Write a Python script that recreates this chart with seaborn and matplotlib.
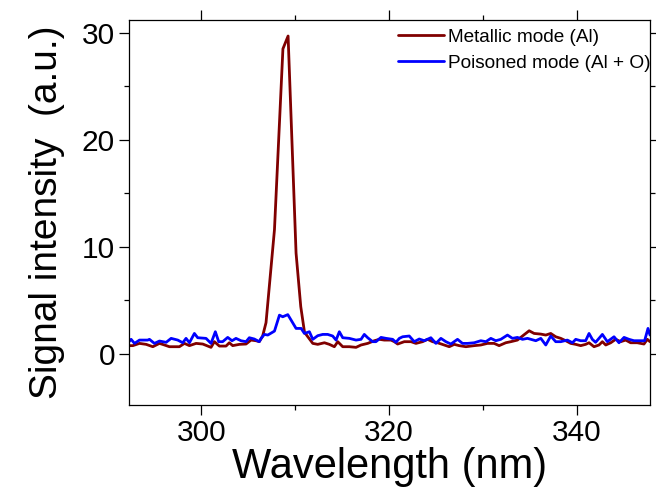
import numpy as np
import pandas as pd
import matplotlib
matplotlib.use("Agg")
import matplotlib.pyplot as plt
from matplotlib.ticker import MultipleLocator
import seaborn as sns

# ---- data ----
wl_metallic = [292.28, 292.71, 293.42, 294.13, 294.84, 295.55, 296.08, 296.61, 297.67, 298.21,
               298.74, 299.45, 300.16, 301.04, 301.40, 301.93, 302.64, 302.99, 303.35, 304.06,
               304.77, 305.30, 305.83, 306.18, 306.54, 306.90, 307.80, 308.70, 309.25, 310.10,
               310.60, 311.00, 311.35, 311.88, 312.41, 313.12, 313.65, 314.18, 314.54, 315.07,
               315.78, 316.49, 317.02, 317.73, 318.44, 318.97, 319.50, 320.21, 320.57, 320.92,
               321.63, 322.34, 322.87, 323.58, 324.11, 324.64, 325.17, 325.88, 326.42, 326.95,
               327.48, 328.19, 329.08, 329.78, 330.49, 331.20, 331.73, 332.44, 332.98, 333.68,
               334.22, 334.93, 335.46, 336.17, 336.70, 337.23, 337.76, 338.30, 338.83, 339.36,
               339.89, 340.42, 340.95, 341.31, 341.84, 342.37, 342.73, 343.09, 343.62, 344.15,
               344.68, 345.21, 345.74, 346.45, 347.16, 347.52, 347.80]
int_metallic = [0.75, 0.75, 0.96, 0.87, 0.65, 0.96, 0.81, 0.65, 0.65, 0.96,
                0.75, 0.96, 0.90, 0.59, 1.12, 0.71, 0.71, 1.02, 0.75, 0.87,
                0.90, 1.27, 1.21, 1.12, 1.65, 2.90, 11.6, 28.5, 29.7, 9.4,
                4.4, 2.0, 1.58, 0.96, 0.87, 1.02, 0.87, 0.65, 1.12, 0.65,
                0.65, 0.59, 0.81, 0.96, 1.21, 1.34, 1.27, 1.27, 1.12, 0.90,
                1.12, 1.12, 0.96, 1.12, 1.34, 1.12, 1.02, 0.81, 0.65, 0.87,
                0.75, 0.65, 0.75, 0.81, 0.96, 0.96, 0.75, 1.02, 1.12, 1.27,
                1.65, 2.14, 1.89, 1.83, 1.74, 1.89, 1.58, 1.43, 1.21, 0.96,
                0.87, 0.75, 0.87, 1.02, 0.65, 0.81, 1.12, 0.81, 1.02, 1.34,
                1.12, 1.27, 1.02, 1.02, 0.90, 1.34, 1.12]

wl_poisoned = [292.30, 292.53, 292.89, 293.42, 294.30, 294.48, 295.01, 295.55, 296.26, 296.79,
               297.50, 298.03, 298.38, 298.74, 299.27, 299.62, 300.51, 301.04, 301.50, 301.86,
               302.28, 302.82, 303.28, 303.70, 304.23, 304.77, 305.12, 305.65, 306.18, 306.38,
               306.72, 307.09, 307.80, 308.33, 308.68, 309.22, 309.57, 310.10, 310.64, 310.99,
               311.52, 311.88, 312.41, 312.94, 313.47, 314.00, 314.36, 314.71, 315.07, 315.78,
               316.49, 317.02, 317.37, 317.73, 318.26, 318.61, 319.15, 319.68, 320.39, 320.74,
               321.10, 321.45, 322.16, 322.69, 323.22, 323.76, 324.46, 325.00, 325.53, 326.06,
               326.59, 327.30, 327.83, 328.37, 329.08, 329.78, 330.32, 330.85, 331.38, 331.91,
               332.62, 333.15, 333.68, 334.22, 334.75, 335.64, 336.17, 336.70, 337.23, 337.76,
               338.30, 339.00, 339.54, 339.89, 340.42, 340.95, 341.31, 341.66, 342.01, 342.73,
               343.26, 343.97, 344.50, 345.04, 345.57, 346.10, 346.81, 347.23, 347.59, 347.80]
int_poisoned = [1.12, 1.34, 0.96, 1.27, 1.27, 1.34, 0.96, 1.18, 1.06, 1.43,
                1.27, 1.02, 1.43, 1.02, 1.89, 1.49, 1.43, 0.96, 2.05, 1.12,
                1.12, 1.52, 1.21, 1.43, 1.21, 1.12, 1.49, 1.37, 1.12, 1.43,
                1.80, 1.74, 2.11, 3.60, 3.45, 3.65, 3.14, 2.36, 2.36, 1.89,
                2.05, 1.34, 1.68, 1.80, 1.80, 1.65, 1.27, 2.05, 1.49, 1.43,
                1.27, 1.34, 1.80, 1.49, 1.12, 1.12, 1.52, 1.43, 1.34, 1.06,
                1.43, 1.58, 1.65, 1.12, 1.37, 1.21, 1.49, 0.96, 1.43, 1.12,
                0.90, 1.34, 0.96, 0.96, 1.02, 1.21, 1.12, 1.43, 1.21, 1.34,
                1.74, 1.43, 1.52, 1.34, 1.43, 1.21, 1.43, 0.81, 1.65, 1.12,
                1.12, 1.27, 1.02, 1.34, 1.21, 1.21, 1.89, 1.34, 1.06, 1.80,
                1.12, 1.58, 1.02, 1.52, 1.34, 1.21, 1.21, 1.21, 2.36, 1.74]

label_metallic = "Metallic mode (Al)"
label_poisoned = "Poisoned mode (Al + O)"
x_label = "Wavelength (nm)"
y_label = "Signal intensity  (a.u.)"
x_ticks = [300, 320, 340]
y_ticks = [0, 10, 20, 30]

# ---- style ----
sns.set_style("ticks")
plt.rcParams["font.family"] = ["Liberation Sans", "DejaVu Sans"]
plt.rcParams["axes.linewidth"] = 0.9
for key in ["text.color", "axes.labelcolor", "xtick.color", "ytick.color", "axes.edgecolor"]:
    plt.rcParams[key] = "black"

fig = plt.figure(figsize=(6.56, 4.93), dpi=100)
ax = fig.add_axes([0.1966, 0.1785, 0.7942, 0.781])

df_m = pd.DataFrame({"wl": wl_metallic, "I": int_metallic})
df_p = pd.DataFrame({"wl": wl_poisoned, "I": int_poisoned})

sns.lineplot(data=df_m, x="wl", y="I", color="#800000", lw=2.0, label=label_metallic, ax=ax)
sns.lineplot(data=df_p, x="wl", y="I", color="#0000FF", lw=2.0, label=label_poisoned, ax=ax)

ax.set_xlim(292.3, 347.8)
ax.set_ylim(-4.8, 31.2)
ax.set_xticks(x_ticks)
ax.set_yticks(y_ticks)
ax.xaxis.set_minor_locator(MultipleLocator(10))
ax.yaxis.set_minor_locator(MultipleLocator(5))
ax.tick_params(which="both", direction="out", top=True, right=True,
               labeltop=False, labelright=False, width=0.9)
ax.tick_params(which="major", length=7, labelsize=21.5, pad=3)
ax.tick_params(which="minor", length=3.5)

ax.set_xlabel(x_label, fontsize=30, labelpad=0)
ax.set_ylabel(y_label, fontsize=28, labelpad=12)

leg = ax.legend(loc="upper right", bbox_to_anchor=(1.017, 1.0), frameon=False,
                fontsize=13.7, handlelength=2.4, handletextpad=0.2,
                labelspacing=0.45, borderaxespad=0.25, borderpad=0.2)

fig.savefig("out.png", dpi=100)
